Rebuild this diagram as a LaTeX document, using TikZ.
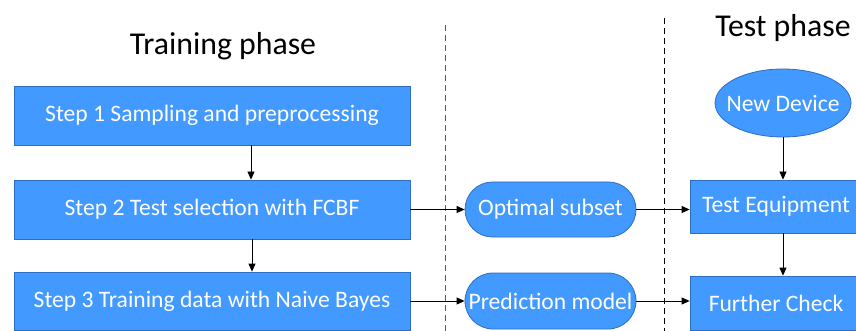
\documentclass[tikz,border=0pt]{standalone}
\usepackage{fontspec}
\setmainfont{Carlito}
\usetikzlibrary{arrows.meta,shapes.geometric,shapes.misc}
\definecolor{boxfill}{RGB}{66,153,255}
\definecolor{boxline}{RGB}{45,110,190}
\begin{document}
\begin{tikzpicture}[x=1pt,y=-1pt,
  blk/.style={draw=boxline,fill=boxfill,line width=0.8pt,text=white,font=\fontsize{23.6}{26}\selectfont,inner sep=0pt,anchor=center},
  stepbox/.style={blk,rectangle},
  pill/.style={blk,rounded rectangle},
  oval/.style={blk,ellipse,inner xsep=-14pt},
  arr/.style={-{Triangle[length=8pt,width=7pt]},line width=0.8pt,black},
  sep/.style={dashed,dash pattern=on 6pt off 4pt,line width=0.9pt}]
\useasboundingbox (0,0) rectangle (856,331);
\node[font=\fontsize{31.8}{34}\selectfont] (tp) at (223,46) {Training phase};
\node[font=\fontsize{31.8}{34}\selectfont] (ts) at (783,28) {Test phase};
\draw[sep,black!65] (445,25) -- (445,331);
\draw[sep,black] (664,18) -- (664,331);
\node[stepbox,minimum width=396pt,minimum height=59pt] (b1) at (212,115.5) {Step 1 Sampling and preprocessing};
\node[stepbox,minimum width=396pt,minimum height=59pt] (b2) at (212,209.5) {Step 2 Test selection with FCBF};
\node[stepbox,minimum width=396pt,minimum height=58pt] (b3) at (212,301) {Step 3 Training data with Naive Bayes};
\node[pill,minimum width=171pt,minimum height=55pt] (opt) at (550.5,209.5) {Optimal subset};
\node[pill,minimum width=171pt,minimum height=56pt] (pred) at (550.5,301) {Prediction model};
\node[stepbox,minimum width=172pt,minimum height=53pt] (teq) at (776,206.5) {Test Equipment};
\node[stepbox,minimum width=172pt,minimum height=54pt] (fc) at (776,303) {Further Check};
\node[oval,minimum width=136pt,minimum height=68pt] (nd) at (783,103) {New Device};
\draw[arr] ([xshift=39pt]b1.south) -- ([xshift=39pt]b2.north);
\draw[arr] ([xshift=40pt]b2.south) -- ([xshift=40pt]b3.north);
\draw[arr] (b2.east |- opt.west) -- (opt.west);
\draw[arr] (b3.east |- pred.west) -- (pred.west);
\draw[arr] (opt.east) -- (opt.east -| teq.west);
\draw[arr] (pred.east) -- (pred.east -| fc.west);
\draw[arr] (nd.south) -- (nd.south |- teq.north);
\draw[arr] (nd.south |- teq.south) -- (nd.south |- fc.north);
\end{tikzpicture}
\end{document}
